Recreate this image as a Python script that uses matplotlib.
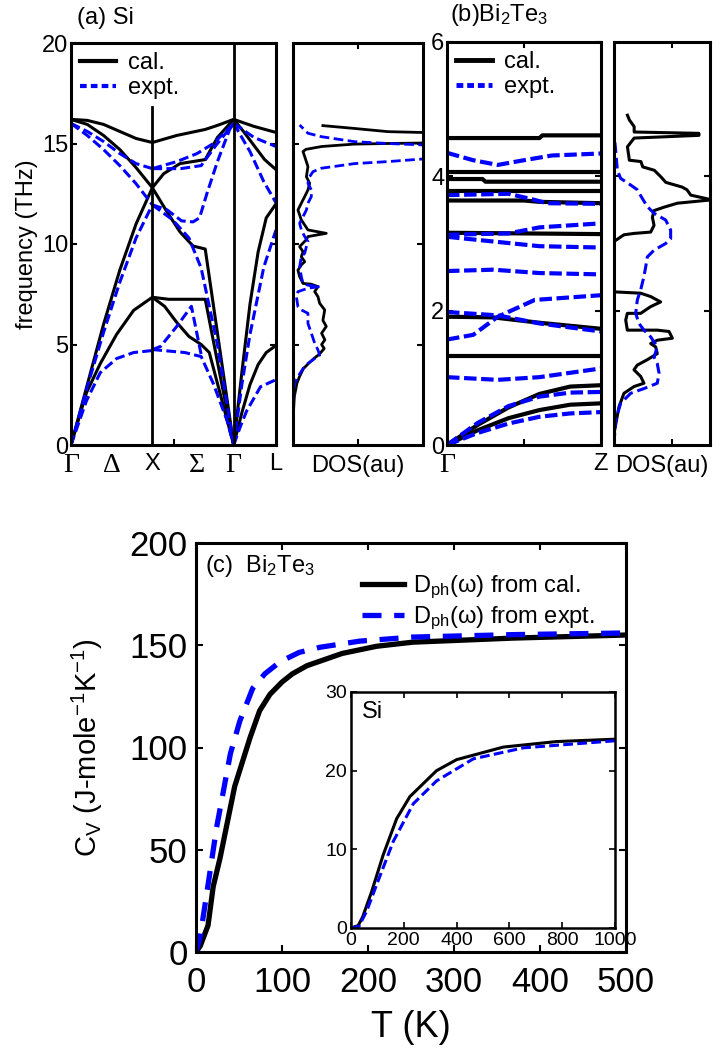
import numpy as np
import matplotlib.pyplot as plt
from matplotlib.lines import Line2D

plt.rcParams["font.family"] = ["Liberation Sans", "DejaVu Sans"]
plt.rcParams["mathtext.fontset"] = "custom"
plt.rcParams["mathtext.rm"] = "Liberation Sans"
plt.rcParams["mathtext.it"] = "Liberation Sans:italic"
plt.rcParams["mathtext.default"] = "regular"
plt.rcParams["axes.linewidth"] = 2.2
plt.rcParams["xtick.direction"] = "in"
plt.rcParams["ytick.direction"] = "in"
plt.rcParams["xtick.top"] = True
plt.rcParams["ytick.right"] = True

BLUE = "#0000ff"

# ---------------- (a) Si dispersion: Gamma=0, X=1, Gamma=2, L=2.52
si_sym_k = [0.0, 0.5, 1.0, 1.55, 2.0, 2.52]
si_sym_lab = ["Γ", "Δ", "X", "Σ", "Γ", "L"]

si_cal = [
    ([0, 0.2, 0.4, 0.6, 0.8, 1.0], [16.2, 16.15, 15.95, 15.6, 15.25, 15.05]),
    ([0, 0.2, 0.4, 0.6, 0.8, 1.0], [16.2, 15.95, 15.4, 14.7, 13.8, 12.8]),
    ([0, 0.2, 0.4, 0.6, 0.8, 1.0], [0, 3.0, 6.0, 8.7, 11.0, 12.8]),
    ([0, 0.19, 0.36, 0.56, 0.77, 1.0], [0, 2.6, 4.05, 5.5, 6.7, 7.35]),
    ([1.0, 1.3, 1.65, 1.8, 2.0], [15.05, 15.4, 15.7, 15.9, 16.2]),
    ([1.0, 1.14, 1.34, 1.65, 1.8, 2.0], [12.8, 13.5, 14.0, 14.2, 15.3, 16.2]),
    ([1.0, 1.18, 1.34, 1.5, 1.65, 2.0], [12.8, 11.6, 10.6, 9.9, 9.75, 0]),
    ([1.0, 1.2, 1.65, 2.0], [7.35, 7.25, 7.25, 0]),
    ([1.0, 1.15, 1.3, 1.45, 1.6, 1.7, 2.0], [7.35, 6.9, 6.1, 5.4, 5.0, 4.6, 0]),
    ([2.0, 2.25, 2.52], [16.2, 15.85, 15.55]),
    ([2.0, 2.12, 2.25, 2.38, 2.52], [16.2, 15.6, 14.9, 14.2, 13.7]),
    ([2.0, 2.1, 2.2, 2.3, 2.4, 2.52], [0, 3.6, 7.0, 9.6, 11.3, 12.0]),
    ([2.0, 2.1, 2.2, 2.3, 2.4, 2.52], [0, 1.6, 3.0, 4.0, 4.6, 4.95]),
]

si_expt = [
    ([0, 0.2, 0.4, 0.6, 0.8, 1.0], [16.0, 15.6, 15.1, 14.5, 14.0, 13.75]),
    ([0, 0.2, 0.4, 0.6, 0.8, 1.0], [16.0, 15.4, 14.7, 13.9, 13.0, 11.95]),
    ([0, 0.2, 0.4, 0.6, 0.8, 1.0], [0, 2.9, 5.6, 8.1, 10.3, 11.95]),
    ([0, 0.19, 0.36, 0.56, 0.77, 1.0], [0, 2.2, 3.6, 4.3, 4.6, 4.7]),
    ([1.0, 1.35, 1.6, 1.78, 2.0], [13.75, 13.75, 13.9, 14.9, 16.0]),
    ([1.0, 1.3, 1.55, 1.75, 2.0], [13.75, 14.1, 14.5, 15.0, 16.0]),
    ([1.0, 1.18, 1.36, 1.5, 1.58, 1.67, 1.8, 1.95, 2.0],
     [11.95, 11.7, 11.15, 11.1, 11.3, 12.5, 14.1, 15.7, 16.0]),
    ([1.0, 1.25, 1.45, 1.6, 1.8, 2.0], [11.95, 11.2, 10.3, 8.8, 5.0, 0]),
    ([1.0, 1.4, 1.6, 1.75, 1.92, 2.0], [4.75, 4.6, 4.4, 3.05, 1.2, 0]),
    ([1.0, 1.1, 1.3, 1.48, 1.6], [4.75, 4.9, 5.9, 6.9, 4.5]),
    ([2.0, 2.25, 2.52], [16.0, 15.3, 14.85]),
    ([2.0, 2.2, 2.37, 2.52], [16.0, 14.6, 13.1, 12.05]),
    ([2.0, 2.1, 2.2, 2.37, 2.52], [0, 3.0, 5.5, 8.85, 10.7]),
    ([2.0, 2.08, 2.16, 2.33, 2.52], [0, 0.9, 1.7, 2.9, 3.25]),
]

# Si DOS (arbitrary units)
si_dos_cal_f = [1.2, 2.4, 3.07, 3.4, 3.8, 4.06, 4.3, 4.5, 4.8, 5.0, 5.23, 5.56, 5.9,
                6.2, 6.72, 7.05, 7.38, 7.63, 7.88, 8.0, 8.04, 8.38, 8.7, 8.96, 9.12,
                9.37, 9.62, 9.87, 10.2, 10.37, 10.53, 10.7, 11.2, 11.69, 12.03, 12.36,
                12.69, 13.02, 13.35, 13.85, 14.35, 14.6, 14.71, 14.85, 14.97, 15.0,
                15.05, 15.5, 15.59, 15.75, 15.89]
si_dos_cal = [0.0, 0.01, 0.03, 0.05, 0.08, 0.12, 0.16, 0.2, 0.24, 0.22, 0.245, 0.22,
              0.256, 0.23, 0.244, 0.205, 0.192, 0.167, 0.192, 0.14, 0.077, 0.051,
              0.038, 0.064, 0.09, 0.064, 0.077, 0.051, 0.1, 0.115, 0.256, 0.115,
              0.064, 0.038, 0.064, 0.09, 0.115, 0.128, 0.103, 0.115, 0.09, 0.077,
              0.1, 0.22, 0.47, 0.73, 1.3, 1.3, 0.73, 0.47, 0.23]
si_dos_expt_f = [0.0, 1.74, 3.07, 3.4, 3.8, 4.06, 4.3, 4.47, 4.73, 5.06, 5.56, 6.05,
                 6.55, 6.72, 6.88, 7.38, 7.63, 7.8, 7.88, 7.95, 8.04, 8.38, 8.87,
                 9.37, 9.54, 9.87, 10.12, 10.37, 10.7, 11.03, 11.36, 11.69, 12.03,
                 12.36, 12.69, 13.02, 13.35, 13.6, 13.77, 14.0, 14.1, 14.23, 14.4,
                 14.8, 14.93, 15.0, 15.09, 15.34, 15.51, 15.92]
si_dos_expt = [0.0, 0.0, 0.013, 0.038, 0.077, 0.115, 0.167, 0.205, 0.192, 0.167,
               0.141, 0.115, 0.115, 0.064, 0.038, 0.026, 0.038, 0.115, 0.205, 0.115,
               0.077, 0.064, 0.051, 0.064, 0.09, 0.103, 0.115, 0.09, 0.064, 0.051,
               0.077, 0.103, 0.115, 0.141, 0.141, 0.115, 0.128, 0.154, 0.218, 0.474,
               0.73, 1.0, 1.3, 1.3, 1.0, 0.73, 0.474, 0.218, 0.115, 0.051]

# ---------------- (b) Bi2Te3 dispersion: Gamma=0, Z=1
bt_sym_k = [0.0, 1.0]
bt_sym_lab = ["Γ", "Z"]

bt_cal = [
    ([0, 0.6, 0.62, 1.0], [4.57, 4.57, 4.61, 4.61]),
    ([0, 1.0], [4.07, 4.07]),
    ([0, 0.23, 0.25, 1.0], [3.96, 3.96, 3.92, 3.92]),
    ([0, 1.0], [3.78, 3.78]),
    ([0, 0.5, 0.6, 1.0], [3.64, 3.64, 3.62, 3.6]),
    ([0, 1.0], [3.16, 3.14]),
    ([0, 0.3, 0.6, 1.0], [1.91, 1.90, 1.82, 1.73]),
    ([0, 1.0], [1.32, 1.32]),
    ([0, 0.2, 0.4, 0.6, 0.8, 1.0], [0, 0.30, 0.56, 0.76, 0.87, 0.89]),
    ([0, 0.2, 0.4, 0.6, 0.8, 1.0], [0, 0.22, 0.40, 0.52, 0.60, 0.62]),
]

bt_expt = [
    ([0, 0.17, 0.33, 0.5, 0.68, 1.0], [4.35, 4.24, 4.17, 4.24, 4.31, 4.34]),
    ([0, 0.4, 0.55, 0.65, 1.0], [3.72, 3.74, 3.66, 3.6, 3.59]),
    ([0, 0.4, 0.6, 1.0], [3.13, 3.15, 3.24, 3.30]),
    ([0, 0.3, 0.6, 1.0], [3.10, 3.03, 2.96, 2.94]),
    ([0, 0.3, 0.6, 1.0], [2.59, 2.61, 2.56, 2.54]),
    ([0, 0.33, 0.6, 1.0], [1.98, 1.93, 1.81, 1.69]),
    ([0, 0.17, 0.33, 0.57, 1.0], [1.57, 1.64, 1.91, 2.16, 2.23]),
    ([0, 0.33, 0.6, 1.0], [1.01, 0.97, 1.01, 1.14]),
    ([0, 0.2, 0.4, 0.6, 0.8, 1.0], [0, 0.33, 0.58, 0.72, 0.78, 0.79]),
    ([0, 0.2, 0.4, 0.6, 0.8, 1.0], [0, 0.18, 0.32, 0.42, 0.47, 0.49]),
]

bt_dos_cal_f = [0.05, 0.17, 0.57, 0.77, 0.87, 0.92, 1.02, 1.12, 1.19, 1.27, 1.36,
                1.46, 1.51, 1.56, 1.59, 1.69, 1.71, 1.71, 1.86, 1.96, 1.96, 2.06,
                2.13, 2.21, 2.26, 2.28, 3.03, 3.13, 3.15, 3.17, 3.27, 3.39, 3.49,
                3.54, 3.60, 3.65, 3.72, 3.80, 3.84, 3.91, 3.99, 4.09, 4.14, 4.22,
                4.24, 4.44, 4.57, 4.61, 4.64, 4.66, 4.74, 4.84, 4.91]
bt_dos_cal = [0.0, 0.0, 0.052, 0.104, 0.208, 0.312, 0.278, 0.208, 0.243, 0.347,
              0.451, 0.434, 0.382, 0.451, 0.608, 0.573, 0.451, 0.139, 0.122, 0.139,
              0.278, 0.382, 0.486, 0.382, 0.278, 0.0, 0.0, 0.104, 0.208, 0.382,
              0.417, 0.40, 0.417, 0.52, 0.66, 1.02, 0.80, 0.76, 0.71, 0.54, 0.49,
              0.42, 0.30, 0.28, 0.16, 0.14, 0.21, 0.885, 0.885, 0.21, 0.21, 0.16, 0.14]
bt_dos_expt_f = [0.02, 0.37, 0.62, 0.77, 0.84, 0.92, 1.07, 1.21, 1.31, 1.46, 1.61,
                 1.71, 1.81, 1.96, 2.16, 2.31, 2.51, 2.65, 2.80, 2.90, 3.0, 3.07,
                 3.20, 3.35, 3.45, 3.55, 3.67, 3.80, 3.87, 3.97, 4.09, 4.39, 4.64]
bt_dos_expt = [0.0, 0.017, 0.069, 0.174, 0.312, 0.451, 0.469, 0.451, 0.417, 0.451,
               0.382, 0.312, 0.26, 0.226, 0.243, 0.278, 0.312, 0.33, 0.347, 0.417,
               0.538, 0.59, 0.59, 0.538, 0.417, 0.347, 0.295, 0.243, 0.174, 0.069,
               0.035, 0.017, 0.0]

# ---------------- (c) heat capacity
cv_T_cal = [0, 5, 14, 20, 28, 45, 63, 74, 86, 100, 112, 129, 170, 210, 252, 369, 500]
cv_cal = [0, 3, 13, 32, 46, 81, 105, 118, 126, 132, 136, 140, 146, 149.5, 151.5,
          153.5, 155]
cv_T_expt = [0, 5, 13, 24, 40, 51, 66, 80, 98, 120, 144, 190, 252, 369, 500]
cv_expt = [0, 8, 30, 61, 97, 113, 129, 136, 142, 146.5, 149, 152, 154, 155.2, 156]

si_T_cal = [0, 27, 44, 78, 122, 173, 223, 324, 400, 577, 779, 1000]
si_cv_cal = [0, 0.3, 1.4, 4.6, 9.3, 13.9, 16.7, 20.0, 21.4, 23.0, 23.7, 24.0]
si_T_expt = [0, 30, 60, 97, 160, 236, 324, 463, 653, 1000]
si_cv_expt = [0, 0.2, 2.2, 5.5, 11.0, 15.8, 18.7, 21.5, 22.9, 23.8]


def fax(x, y, w, h):
    # pixel box (from top-left) -> figure fraction
    return [x / 721, 1 - (y + h) / 1051, w / 721, h / 1051]


def draw_bands(ax, cal, expt, lw, dash):
    for k, f in cal:
        ax.plot(k, f, color="k", lw=lw, solid_capstyle="butt")
    for k, f in expt:
        ax.plot(k, f, color=BLUE, lw=lw, dashes=dash)


def sym_ticks(ax, ks, labs, fs):
    ax.set_xticks(ks)
    ax.set_xticklabels(labs)
    ax.tick_params(axis="x", which="major", length=0, pad=6)
    for t in ax.get_xticklabels():
        if t.get_text() in ("Γ", "Δ", "Σ"):
            t.set_fontfamily("Liberation Serif")
            t.set_fontsize(fs + 3)
        else:
            t.set_fontsize(fs)


def main():
    fig = plt.figure(figsize=(7.21, 10.51), dpi=100)
    fs = 17

    # ---- (a) Si bands
    ax_a = fig.add_axes(fax(71, 43, 205, 402))
    draw_bands(ax_a, si_cal, si_expt, 2.2, (3.2, 1.4))
    ax_a.plot([1.0, 1.0], [0, 16.8], color="k", lw=2.0)
    ax_a.axvline(2.0, color="k", lw=2.0)
    ax_a.set_xlim(0, 2.52)
    ax_a.set_ylim(0, 20)
    ax_a.set_yticks([0, 5, 10, 15, 20])
    ax_a.tick_params(axis="y", labelsize=fs, pad=2, length=4, width=1.5)
    sym_ticks(ax_a, si_sym_k, si_sym_lab, fs)
    ax_a.set_xticks([1.26], minor=True)
    ax_a.tick_params(axis="x", which="minor", top=False, length=4, width=1.5)
    ax_a.set_ylabel("frequency (THz)", fontsize=fs, labelpad=3)
    ax_a.text(0.03, 1.035, "(a) Si", transform=ax_a.transAxes, fontsize=fs,
              va="bottom", ha="left")
    hnd = [Line2D([], [], color="k", lw=3),
           Line2D([], [], color=BLUE, lw=3, dashes=(1.6, 1.0))]
    ax_a.legend(hnd, ["cal.", "expt."], loc="upper left", frameon=False,
                fontsize=fs, handlelength=1.5, handletextpad=0.5,
                labelspacing=0.1, borderaxespad=0.1, borderpad=0.3)

    # ---- (a) Si DOS
    ax_ad = fig.add_axes(fax(293, 43, 130, 402))
    ax_ad.plot(si_dos_cal, si_dos_cal_f, color="k", lw=2.0)
    ax_ad.plot(si_dos_expt, si_dos_expt_f, color=BLUE, lw=2.0, dashes=(3.5, 1.6))
    ax_ad.set_xlim(0, 1)
    ax_ad.set_ylim(0, 20)
    ax_ad.set_xticks([0.5])
    ax_ad.set_yticks([5, 10, 15])
    ax_ad.tick_params(labelleft=False, labelbottom=False, length=4, width=1.5)
    ax_ad.set_xlabel("DOS(au)", fontsize=fs, labelpad=7)

    # ---- (b) Bi2Te3 bands
    ax_b = fig.add_axes(fax(447, 42, 154, 403))
    draw_bands(ax_b, bt_cal, bt_expt, 3.0, (3.0, 1.1))
    ax_b.set_xlim(0, 1)
    ax_b.set_ylim(0, 6)
    ax_b.set_yticks([0, 2, 4, 6])
    ax_b.tick_params(axis="y", labelsize=fs, pad=2, length=4, width=1.5)
    sym_ticks(ax_b, bt_sym_k, bt_sym_lab, fs)
    ax_b.set_xticks([0.5], minor=True)
    ax_b.tick_params(axis="x", which="minor", length=4, width=1.5)
    ax_b.text(0.02, 1.035, "(b)Bi$_2$Te$_3$", transform=ax_b.transAxes,
              fontsize=fs, va="bottom", ha="left")
    hnd = [Line2D([], [], color="k", lw=3.5),
           Line2D([], [], color=BLUE, lw=3.5, dashes=(1.4, 0.8))]
    ax_b.legend(hnd, ["cal.", "expt."], loc="upper left", frameon=False,
                fontsize=fs, handlelength=1.5, handletextpad=0.5,
                labelspacing=0.1, borderaxespad=0.1, borderpad=0.3)

    # ---- (b) Bi2Te3 DOS
    ax_bd = fig.add_axes(fax(614, 42, 96, 403))
    ax_bd.plot(bt_dos_cal, bt_dos_cal_f, color="k", lw=2.2)
    ax_bd.plot(bt_dos_expt, bt_dos_expt_f, color=BLUE, lw=2.2, dashes=(3.5, 1.6))
    ax_bd.set_xlim(0, 1)
    ax_bd.set_ylim(0, 6)
    ax_bd.set_xticks([0.6])
    ax_bd.set_yticks([2, 4])
    ax_bd.tick_params(labelleft=False, labelbottom=False, length=4, width=1.5)
    ax_bd.set_xlabel("DOS(au)", fontsize=fs, labelpad=7)

    # ---- (c) heat capacity
    ax_c = fig.add_axes(fax(196, 543, 430, 409))
    ax_c.plot(cv_T_cal, cv_cal, color="k", lw=3.8, label=r"D$_{ph}$(ω) from cal.")
    ax_c.plot(cv_T_expt, cv_expt, color=BLUE, lw=3.8, dashes=(3.6, 2.4),
              label=r"D$_{ph}$(ω) from expt.")
    ax_c.set_xlim(0, 500)
    ax_c.set_ylim(0, 200)
    ax_c.set_xticks([0, 100, 200, 300, 400, 500])
    ax_c.set_yticks([0, 50, 100, 150, 200])
    ax_c.tick_params(axis="both", labelsize=25, length=5, width=1.5)
    ax_c.tick_params(axis="x", pad=10)
    ax_c.tick_params(axis="y", pad=6)
    ax_c.set_xlabel("T (K)", fontsize=26, labelpad=8)
    ax_c.set_ylabel(r"C$_V$ (J-mole$^{-1}$K$^{-1}$)", fontsize=21, labelpad=18)
    ax_c.text(0.02, 0.975, "(c)  Bi$_2$Te$_3$", transform=ax_c.transAxes,
              fontsize=fs, va="top", ha="left")
    ax_c.legend(loc="upper right", frameon=False, fontsize=fs, handlelength=1.8,
                handletextpad=0.4, labelspacing=0.15, borderaxespad=0.9)

    # ---- inset: Si
    ax_in = fig.add_axes(fax(351, 692, 264, 236))
    ax_in.plot(si_T_cal, si_cv_cal, color="k", lw=2.2)
    ax_in.plot(si_T_expt, si_cv_expt, color=BLUE, lw=2.2, dashes=(3.2, 1.4))
    ax_in.set_xlim(0, 1000)
    ax_in.set_ylim(0, 30)
    ax_in.set_xticks([0, 200, 400, 600, 800, 1000])
    ax_in.set_yticks([0, 10, 20, 30])
    ax_in.tick_params(axis="both", labelsize=14, length=4, width=1.2, pad=3)
    for s in ax_in.spines.values():
        s.set_linewidth(1.8)
    ax_in.text(0.04, 0.96, "Si", transform=ax_in.transAxes, fontsize=fs,
               va="top", ha="left")

    fig.savefig("out.png", dpi=100)


if __name__ == "__main__":
    main()
